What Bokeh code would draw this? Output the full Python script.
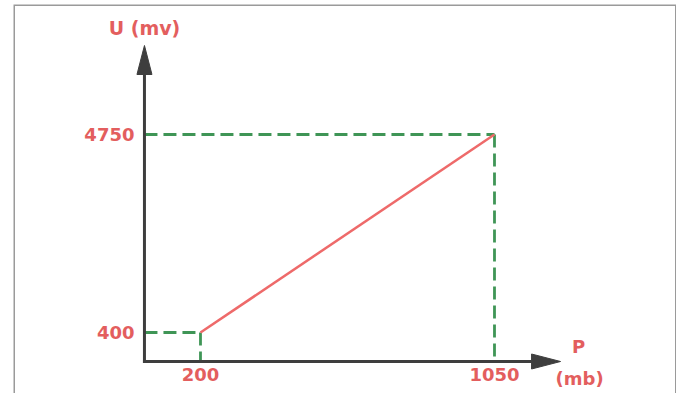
from bokeh.plotting import figure
from bokeh.models import Range1d, Label
from bokeh.embed import file_html
from bokeh.resources import INLINE

# data
P = [200, 1050]          # pressure (mb)
U = [400, 4750]          # voltage (mV)
x_tick_labels = ["200", "1050"]
y_tick_labels = ["400", "4750"]
x_title = ["P", "(mb)"]
y_title = "U (mv)"

# schematic layout (data units)
X0, Y0 = 38, -237        # where the axes meet
X_END, Y_END = 1241, 6705
XL, XR, YB, YT = -340.6, 1576.2, -940, 7606
UX = 850 / 294          # data units per pixel (x)
UY = 4350 / 198         # data units per pixel (y)

RED = "#ee6a6a"
TXT = "#e35e5e"
GREEN = "#3f9556"
AX = "#3e3e3e"
FONT = "DejaVu Sans"
FS = "18px"

p = figure(width=676, height=393, output_backend="svg", toolbar_location=None,
           x_range=Range1d(XL, XR), y_range=Range1d(YB, YT),
           min_border_left=13, min_border_right=0, min_border_top=4, min_border_bottom=0)
p.axis.visible = False
p.grid.visible = False
p.outline_line_color = None

# frame (left, top, right only)
p.line([XL, XL, XR, XR], [YB, YT, YT, YB], line_color="#9a9a9a", line_width=3)

# dashed guides
for xv, yv in zip(P, U):
    p.line([X0, xv], [yv, yv], line_color=GREEN, line_width=2.8, line_dash="13 6")
    p.line([xv, xv], [yv, Y0], line_color=GREEN, line_width=2.8, line_dash="13 6")

# characteristic line
p.line(P, U, line_color=RED, line_width=2.5)

# axes with arrow heads
HL, HW = 29, 7.5   # head length / half width in px
p.line([X0, X0], [Y0 - 1.5 * UY, Y_END - HL * UY], line_color=AX, line_width=3)
p.line([X0 - 1.5 * UX, X_END - HL * UX], [Y0, Y0], line_color=AX, line_width=3)
p.patch([X0 - HW * UX, X0, X0 + HW * UX], [Y_END - HL * UY, Y_END, Y_END - HL * UY],
        fill_color=AX, line_color=AX)
p.patch([X_END - HL * UX, X_END, X_END - HL * UX], [Y0 - HW * UY, Y0, Y0 + HW * UY],
        fill_color=AX, line_color=AX)

# tick labels
for xv, lab in zip(P, x_tick_labels):
    p.add_layout(Label(x=xv, y=Y0, text=lab, text_align="center", text_baseline="top",
                       y_offset=-6, text_color=TXT, text_font=FONT, text_font_size=FS,
                       text_font_style="bold"))
for yv, lab in zip(U, y_tick_labels):
    p.add_layout(Label(x=X0, y=yv, text=lab, text_align="right", text_baseline="middle",
                       x_offset=-10, text_color=TXT, text_font=FONT, text_font_size=FS,
                       text_font_style="bold"))

# axis titles
p.add_layout(Label(x=X0, y=Y_END, text=y_title, text_align="center", text_baseline="bottom",
                   y_offset=7, text_color=TXT, text_font=FONT, text_font_size="19px",
                   text_font_style="bold"))
p.add_layout(Label(x=X_END, y=Y0, text=x_title[0], text_align="center", text_baseline="bottom",
                   x_offset=18, y_offset=5, text_color=TXT, text_font=FONT, text_font_size=FS,
                   text_font_style="bold"))
p.add_layout(Label(x=X_END, y=Y0, text=x_title[1], text_align="center", text_baseline="top",
                   x_offset=19, y_offset=-6, text_color=TXT, text_font=FONT, text_font_size=FS,
                   text_font_style="bold"))

open("out.html", "w").write(file_html(p, INLINE))
